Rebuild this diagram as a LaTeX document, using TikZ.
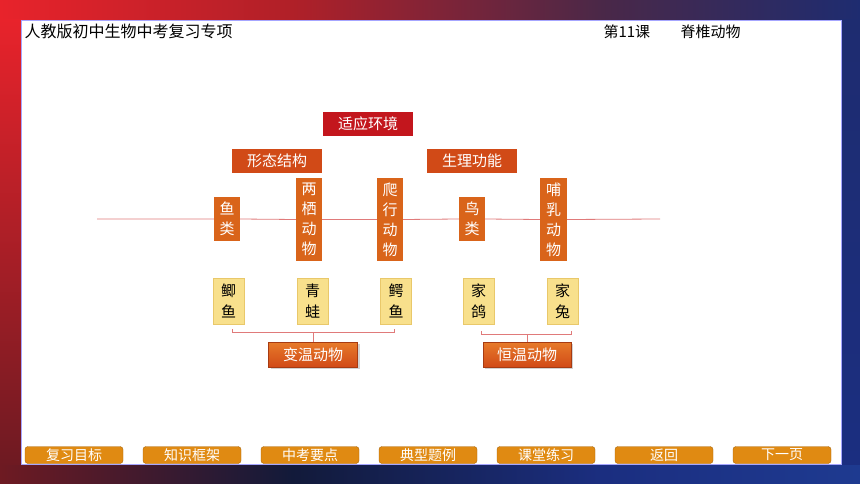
\documentclass[tikz,border=0pt]{standalone}
\usepackage{fontspec}
\newfontfamily\cjk{Noto Sans CJK SC}
\usetikzlibrary{shadows}
\definecolor{bgred}{HTML}{E8232B}
\definecolor{bgredmid}{HTML}{B02028}
\definecolor{bgpurple}{HTML}{4A2848}
\definecolor{bgtopblue}{HTML}{1E2C70}
\definecolor{bgmaroon}{HTML}{6E1A22}
\definecolor{bgnavy}{HTML}{121A3A}
\definecolor{bgblue}{HTML}{1B2E80}
\definecolor{bgrightblue}{HTML}{1E3A90}
\definecolor{darkred}{HTML}{C3161D}
\definecolor{rustred}{HTML}{D14A17}
\definecolor{boxorange}{HTML}{D9641A}
\definecolor{paleyellow}{HTML}{F8E08C}
\definecolor{yellowedge}{HTML}{E9C86A}
\definecolor{btnorange}{HTML}{E08A12}
\definecolor{linered}{HTML}{E07A7A}
\pgfdeclarehorizontalshading{topband}{100bp}{color(0bp)=(bgred); color(25bp)=(bgred);
  color(42bp)=(bgredmid); color(60bp)=(bgpurple); color(75bp)=(bgtopblue); color(100bp)=(bgtopblue)}
\pgfdeclarehorizontalshading{bottomband}{100bp}{color(0bp)=(bgmaroon); color(25bp)=(bgmaroon);
  color(42bp)=(bgnavy); color(60bp)=(bgblue); color(75bp)=(bgrightblue); color(100bp)=(bgrightblue)}

\begin{document}
\begin{tikzpicture}[x=1pt,y=-1pt,
  every node/.style={font=\cjk},
  headbox/.style={text=white, minimum width=90pt, minimum height=24pt,
    inner sep=0pt, font=\cjk\fontsize{15}{18}\selectfont},
  classbox/.style={fill=boxorange, text=white, minimum width=26pt,
    inner sep=0pt, align=center, font=\cjk\fontsize{15}{20}\selectfont},
  animalbox/.style={fill=paleyellow, draw=yellowedge, minimum width=31pt,
    minimum height=46pt, inner sep=0pt, align=center,
    font=\cjk\fontsize{15}{21}\selectfont},
  tempbox/.style={top color=boxorange!70!orange!90!white, bottom color=rustred,
    draw=rustred!80!black, drop shadow={opacity=0.35}, text=white,
    minimum width=89pt, minimum height=25pt, inner sep=0pt,
    font=\cjk\fontsize{15}{18}\selectfont},
  navbtn/.style={fill=btnorange, draw=btnorange!75!black, rounded corners=3pt,
    minimum width=98pt, minimum height=17pt, inner sep=0pt, text=white,
    font=\cjk\fontsize{14}{16}\selectfont},
  axisline/.style={linered, line width=0.8pt},
  bracket/.style={linered, line width=0.6pt}]
\useasboundingbox (0,0) rectangle (860,484);
% frame
\shade[shading=topband] (0,0) rectangle (860,21);
\shade[shading=bottomband] (0,463) rectangle (860,484);
\shade[top color=bgred, bottom color=bgmaroon] (0,20) rectangle (22,464);
\shade[top color=bgtopblue, middle color=bgrightblue, bottom color=bgblue] (840,20) rectangle (860,464);
\fill[white, draw=blue!35!white, line width=0.8pt] (21,20) rectangle (841,464);
% header
\node[anchor=west, font=\cjk\fontsize{16}{18}\selectfont] (title) at (21,31) {人教版初中生物中考复习专项};
\node[anchor=west, font=\cjk\fontsize{15}{18}\selectfont] (lesson) at (600,32) {第11课};
\node[anchor=west, font=\cjk\fontsize{15}{18}\selectfont] (topic) at (677,32) {脊椎动物};
% top labels
\node[headbox, fill=darkred] (adapt) at (368,124) {适应环境};
\node[headbox, fill=rustred] (form) at (277,161) {形态结构};
\node[headbox, fill=rustred] (func) at (472,161) {生理功能};
% animal classes
\coordinate (lineL) at (97,219);
\coordinate (lineR) at (660,219);
\node[classbox, minimum height=44pt] (fish) at (227,219) {鱼\\类};
\node[classbox, minimum height=83pt] (amph) at (309,219.5) {两\\栖\\动\\物};
\node[classbox, minimum height=83pt] (rept) at (390,219.5) {爬\\行\\动\\物};
\node[classbox, minimum height=44pt] (bird) at (472,219) {鸟\\类};
\node[classbox, minimum height=83pt, minimum width=27pt] (mamm) at (553.5,219.5) {哺\\乳\\动\\物};
\draw[axisline] (lineL) -- (fish.west) (fish.east) -- (amph.west)
  (amph.east) -- (rept.west) (rept.east) -- (bird.west)
  (bird.east) -- (mamm.west) (mamm.east) -- (lineR);
% examples
\node[animalbox] (jiyu) at (228.5,301) {鲫\\鱼};
\node[animalbox] (qingwa) at (312.5,301) {青\\蛙};
\node[animalbox] (eyu) at (396,301) {鳄\\鱼};
\node[animalbox] (jiage) at (478.5,301) {家\\鸽};
\node[animalbox] (jiatu) at (562.5,301) {家\\兔};
% body temperature
\node[tempbox] (coldblood) at (313,354.5) {变温动物};
\node[tempbox, minimum width=88pt] (warmblood) at (527,354.5) {恒温动物};
\coordinate (coldL) at (232,332);
\coordinate (coldR) at (394,332);
\coordinate (warmL) at (481,334);
\coordinate (warmR) at (571,334);
\draw[bracket] (coldL) ++(0,-3) -- (coldL) -- (coldR) -- ++(0,-3);
\draw[bracket] (coldblood.north) -- (coldblood.north |- coldL);
\draw[bracket] (warmL) ++(0,-3) -- (warmL) -- (warmR) -- ++(0,-3);
\draw[bracket] (warmblood.north) -- (warmblood.north |- warmL);
% navigation
\foreach \i/\t in {0/复习目标,1/知识框架,2/中考要点,3/典型题例,4/课堂练习,5/返回,6/下一页}
  \node[navbtn] (btn\i) at (74+118*\i,455) {\t};
\end{tikzpicture}
\end{document}
